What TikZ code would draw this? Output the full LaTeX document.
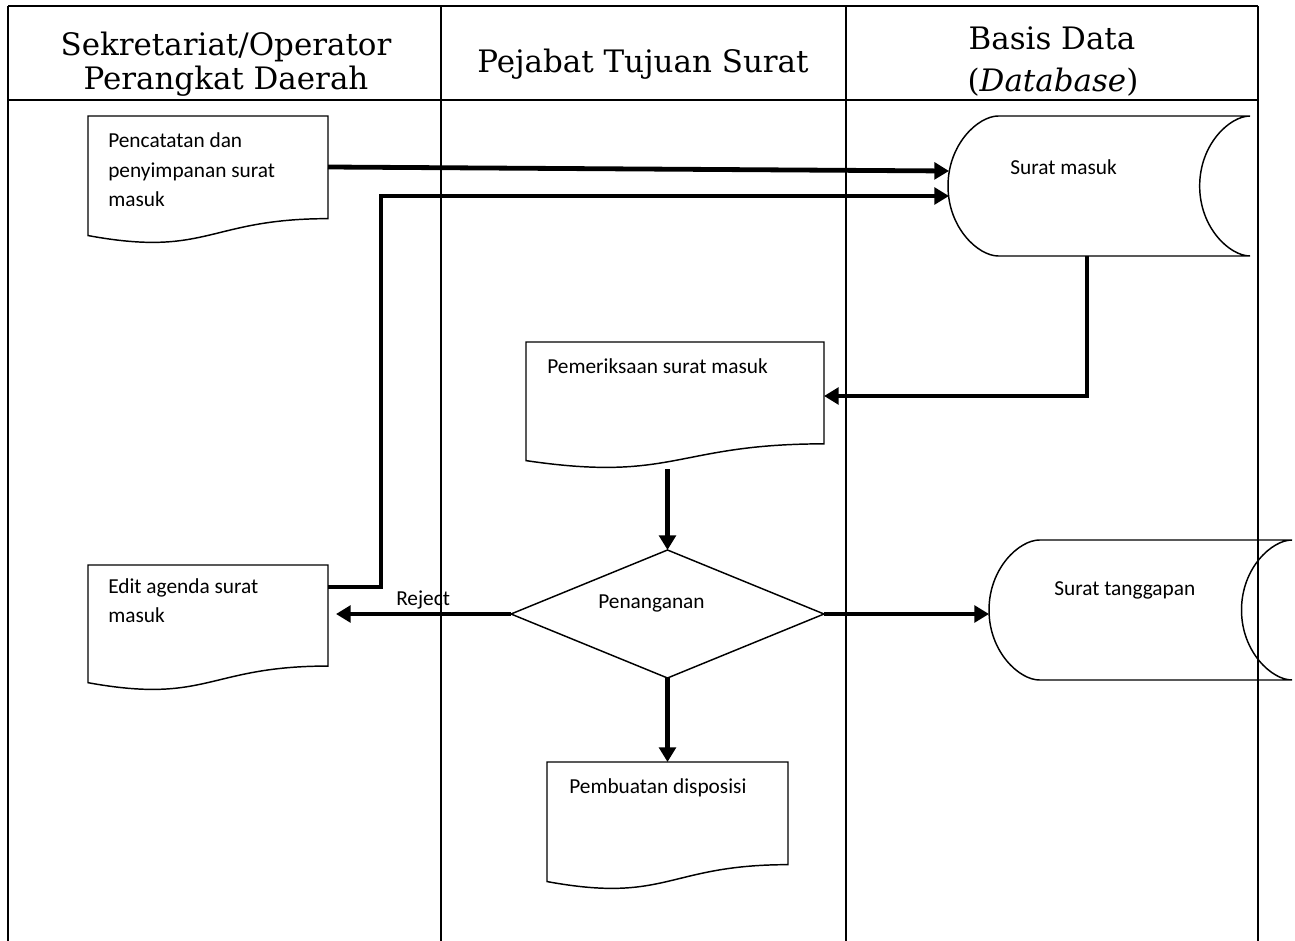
\documentclass[tikz,border=0pt]{standalone}
\usepackage{fontspec}
\setmainfont{Carlito}
\newfontfamily\headfont{DejaVu Serif}
\usetikzlibrary{calc,arrows.meta,shapes.geometric}
\tikzset{
  frameline/.style={line width=1.5pt},
  shp/.style={line width=1.1pt},
  holder/.style={draw=none, inner sep=0pt, outer sep=0pt},
  arr/.style={line width=3.6pt, -{Triangle[length=11pt,width=12.5pt]}},
  lbl/.style={font=\fontsize{16}{19}\selectfont, inner sep=0pt, anchor=base west},
  headtxt/.style={font=\headfont\fontsize{23.2}{27}\selectfont, inner sep=0pt, anchor=base},
}
\newcommand\docdraw[1]{%
  \draw[shp] (#1.north west) -- (#1.north east) -- ($(#1.north east)!0.802!(#1.south east)$)
    .. controls ($(#1.north)!0.802!(#1.south)$) and ($(#1.north)!1.1075!(#1.south)$) ..
    ($(#1.north west)!0.934!(#1.south west)$) -- cycle;}
\newcommand\storeddraw[1]{%
  \draw[shp] let \p1=(#1.north west), \p2=(#1.south east),
      \n1={(\x2-\x1)/6}, \n2={(\y1-\y2)/2},
      \n3={0.4*(\x2-\x1)/6}, \n4={0.6*(\y1-\y2)/2} in
    ({\x1+\n1},\y1) -- (\x2,\y1)
    .. controls ({\x2-\n3},\y1) and ({\x2-\n1},{\y1-\n2+\n4}) .. ({\x2-\n1},{\y1-\n2})
    .. controls ({\x2-\n1},{\y2+\n2-\n4}) and ({\x2-\n3},\y2) .. (\x2,\y2)
    -- ({\x1+\n1},\y2)
    .. controls ({\x1+\n1-\n3},\y2) and (\x1,{\y2+\n2-\n4}) .. (\x1,{\y2+\n2})
    .. controls (\x1,{\y1-\n2+\n4}) and ({\x1+\n1-\n3},\y1) .. cycle;}
\begin{document}
\begin{tikzpicture}[x=0.75pt,y=-0.75pt]
\useasboundingbox (0,0) rectangle (1295,941);
% frame
\draw[frameline] (8,6) -- (1258,6);
\draw[frameline] (8,100) -- (1258,100);
\draw[frameline] (8,6) -- (8,941);
\draw[frameline] (441,6) -- (441,941);
\draw[frameline] (846,6) -- (846,941);
\draw[frameline] (1258,6) -- (1258,941);
% headers
\node[headtxt] (h1a) at (226,56) {Sekretariat/Operator};
\node[headtxt] (h1b) at (226,90) {Perangkat Daerah};
\node[headtxt] (h2) at (643,73) {Pejabat Tujuan Surat};
\node[headtxt] (h3a) at (1052,50) {Basis Data};
\node[headtxt] (h3b) at (1053,92) {(\textit{Database})};
% shapes
\node[holder, minimum width=180pt, minimum height=96pt] (d1) at (208,180) {};
\node[holder, minimum width=223.5pt, minimum height=95.25pt] (pm) at (675,405.5) {};
\node[holder, minimum width=180pt, minimum height=94.5pt] (ea) at (208,628) {};
\node[holder, minimum width=180.75pt, minimum height=96pt] (pb) at (667.5,826) {};
\node[holder, minimum width=226.5pt, minimum height=105pt] (sm) at (1099,186) {};
\node[holder, minimum width=227.25pt, minimum height=105pt] (st) at (1140.5,610) {};
\node[diamond, draw, shp, inner sep=0pt, outer sep=0pt, minimum width=234.75pt, minimum height=96pt] (dm) at (667.5,614) {};
\docdraw{d1}
\docdraw{pm}
\docdraw{ea}
\docdraw{pb}
\storeddraw{sm}
\storeddraw{st}
% texts
\node[lbl] (t1a) at (108,148) {Pencatatan dan};
\node[lbl] (t1b) at (108,178) {penyimpanan surat};
\node[lbl] (t1c) at (108,207) {masuk};
\node[lbl] (tsm) at (1010,175) {Surat masuk};
\node[lbl] (tpm) at (547,373) {Pemeriksaan surat masuk};
\node[lbl] (tdm) at (598,608) {Penanganan};
\node[lbl] (trj) at (396,605) {Reject};
\node[lbl] (tea1) at (108,593) {Edit agenda surat};
\node[lbl] (tea2) at (108,622) {masuk};
\node[lbl] (tst) at (1054,595) {Surat tanggapan};
\node[lbl] (tpb) at (569,793) {Pembuatan disposisi};
% connectors
\draw[arr] ($(d1.north east)+(0,51)$) -- ($(sm.west)+(1,-15)$);
\draw[arr] ($(ea.north east)+(0,22)$) -- ++(53,0) |- ($(sm.west)+(1,10)$);
\draw[arr] ($(sm.south)+(-12,0)$) |- ($(pm.north east)+(0,54)$);
\draw[arr] (pm.south -| dm.north) -- (dm.north);
\draw[arr] (dm.west) -- ([xshift=6pt]dm.west -| ea.east);
\draw[arr] (dm.east) -- (dm.east -| st.west);
\draw[arr] (dm.south) -- (pb.north);
\end{tikzpicture}
\end{document}
